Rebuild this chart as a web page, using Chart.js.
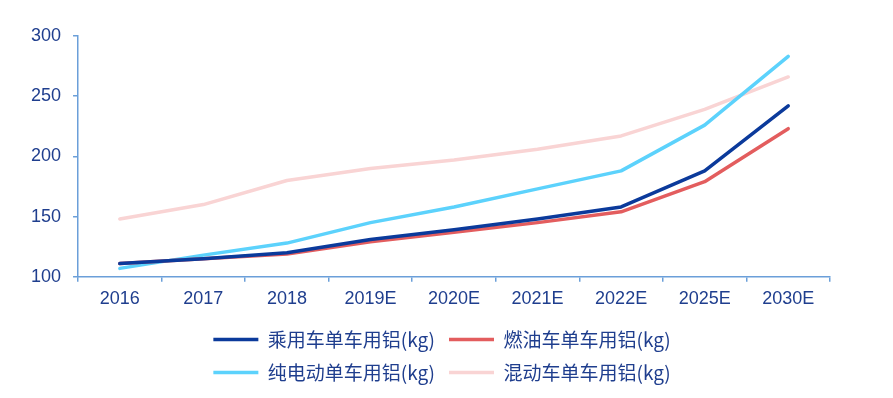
<!DOCTYPE html>
<html>
<head>
<meta charset="utf-8">
<script src="https://cdn.jsdelivr.net/npm/chart.js@4/dist/chart.umd.min.js"></script>
<style>
html,body{margin:0;padding:0;background:#fff;}
#wrap{width:893px;height:398px;position:relative;}
</style>
</head>
<body>
<div id="wrap"><canvas id="c" width="893" height="398"></canvas></div>
<script>
const categories = ['2016','2017','2018','2019E','2020E','2021E','2022E','2025E','2030E'];
const passengerCar = [111,115,120,131,139,148,158,188,242];
const fuelCar      = [111,115,119,129,137,145,154,179,223];
const electricCar  = [107,118,128,145,158,173,188,226,283];
const hybridCar    = [148,160,180,190,197,206,217,239,266];
const seriesNames = ['乘用车单车用铝(kg)','燃油车单车用铝(kg)','纯电动单车用铝(kg)','混动车单车用铝(kg)'];
const yTicks = [100,150,200,250,300];

const textColor = '#1F3E8E';
const axisColor = '#6B9FD9';
const fontFam = '"Liberation Sans", Arial, "Noto Sans CJK SC", sans-serif';

function ds(label, data, color){
  return {label, data, borderColor: color, backgroundColor: color, borderWidth: 3.5,
    pointRadius: 0, pointHoverRadius: 0, tension: 0, fill: false,
    borderCapStyle: 'round', borderJoinStyle: 'round'};
}

const legendWrap = {
  id: 'legendWrap',
  afterInit(chart){
    const lg = chart.legend;
    if (!lg) return;
    const orig = lg.update.bind(lg);
    lg.update = function(maxW, maxH, margins){ return orig(Math.min(maxW, 600), maxH, margins); };
  },
  afterLayout(chart){
    const lg = chart.legend;
    if (!lg) return;
    lg.left = 0;
    lg.right = chart.width - 9;
  }
};

new Chart(document.getElementById('c'), {
  type: 'line',
  data: {
    labels: categories,
    datasets: [
      ds(seriesNames[0], passengerCar, '#0B3A9B'),
      ds(seriesNames[1], fuelCar, '#E35D5E'),
      ds(seriesNames[2], electricCar, '#5CD2FC'),
      ds(seriesNames[3], hybridCar, '#F9D4D4')
    ]
  },
  plugins: [legendWrap],
  options: {
    responsive: false,
    animation: false,
    layout: {padding: {left: 19, right: 63, top: 36, bottom: 6}},
    plugins: {
      tooltip: {enabled: false},
      legend: {
        position: 'bottom',
        labels: {
          usePointStyle: true,
          pointStyle: 'line',
          pointStyleWidth: 45,
          padding: 14,
          color: textColor,
          font: {family: '"Noto Sans CJK SC", "Liberation Sans", sans-serif', size: 19}
        }
      }
    },
    scales: {
      x: {
        offset: true,
        grid: {display: true, drawOnChartArea: false, offset: true, drawTicks: true, tickLength: 5, color: axisColor, lineWidth: 1.5},
        border: {display: true, color: axisColor, width: 1.5},
        ticks: {color: textColor, padding: 0, font: {family: fontFam, size: 18, lineHeight: 1.9}, maxRotation: 0, autoSkip: false}
      },
      y: {
        min: 100, max: 300,
        afterBuildTicks(scale){ scale.ticks = yTicks.map(v => ({value: v})); },
        grid: {display: true, drawOnChartArea: false, drawTicks: true, tickLength: 5, color: axisColor, lineWidth: 1.5},
        border: {display: true, color: axisColor, width: 1.5},
        ticks: {color: textColor, padding: 12, font: {family: fontFam, size: 18}}
      }
    }
  }
});
</script>
</body>
</html>
